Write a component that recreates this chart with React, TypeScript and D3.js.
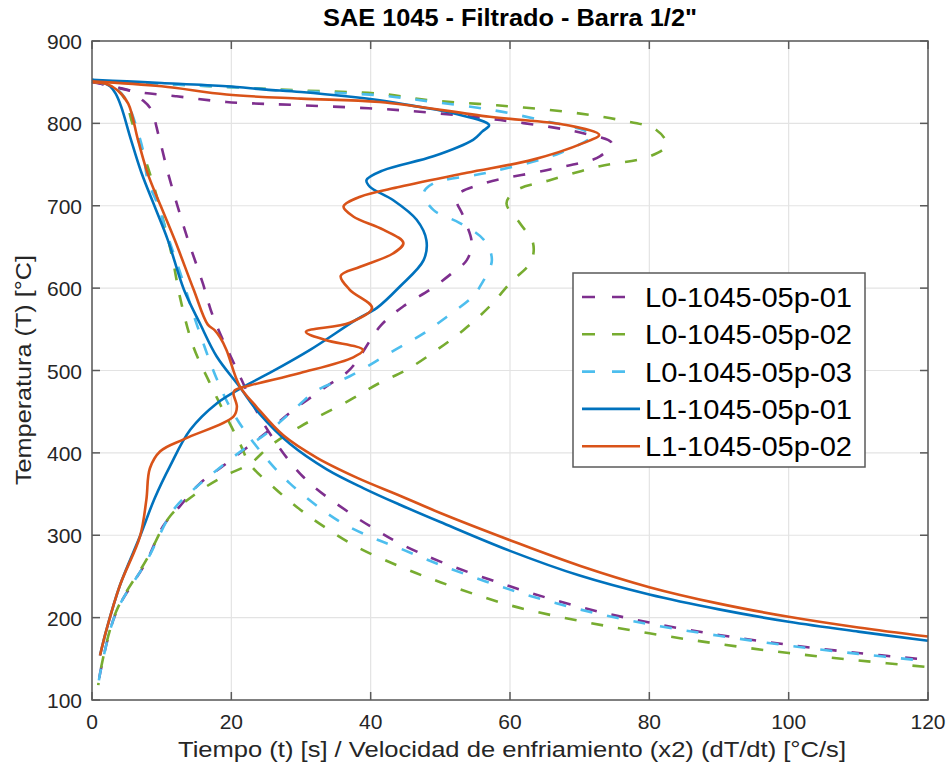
import React, { useEffect, useRef } from "react";
import * as d3 from "d3";

// [x, T] pairs: time curves (t [s]) and cooling-rate curves (2*dT/dt)
const l0_01_time: [number, number][] = [
  [0, 850], [2, 847], [4, 843], [5.7, 839], [7, 830], [8.4, 818], [9.6, 784], [10.9, 740],
  [12.3, 699], [13.8, 658], [15.9, 606], [17.4, 565], [20.8, 501], [24.6, 436], [30.3, 371],
  [37, 327], [40.9, 306], [44.2, 290], [50, 268], [60, 238], [70, 213], [80, 194], [90, 179],
  [100, 167], [110, 157], [118.5, 150],
];
const l0_01_rate: [number, number][] = [
  [0, 851], [5.9, 839], [12, 833], [19.3, 826], [30, 822], [44.2, 816], [58.6, 804], [70.5, 788],
  [74.6, 776], [72.9, 760], [65.7, 744], [56.2, 727], [52.3, 711], [53.3, 687], [54.5, 655],
  [53.8, 634], [51.5, 617], [48.5, 598], [44.7, 578], [41.5, 555], [37, 501], [33.7, 481],
  [28.9, 452], [25.5, 428], [18.8, 384], [15.5, 363], [12.6, 335], [10.2, 311], [7.8, 268],
  [3.5, 207], [1.2, 134], [0.9, 118],
];

const l0_02_time: [number, number][] = [
  [0, 851], [2, 848], [3.5, 842], [4.8, 828], [5.8, 800], [7.5, 760], [9, 720], [10.9, 660],
  [11.7, 630], [12.6, 590], [14.5, 530], [16.9, 485], [18.8, 452], [21.2, 412], [22.7, 386],
  [26.5, 355], [29.9, 331], [33.2, 311], [38, 286], [44.2, 262], [50, 243], [60, 215],
  [70, 196], [80, 181], [90, 168], [100, 157], [110, 148], [120, 140],
];
const l0_02_rate: [number, number][] = [
  [0, 852], [10, 848], [20, 844], [30, 840], [41.3, 836], [48.5, 828], [58.1, 822], [68.1, 814],
  [75.8, 804], [81, 792], [82.5, 774], [80.1, 760], [72.9, 748], [65.7, 731], [61, 719],
  [59.5, 703], [61.4, 679], [63.3, 655], [63, 632], [60, 606], [57.1, 578], [53.3, 549],
  [49.5, 525], [45.2, 501], [41.3, 485], [37, 464], [29.9, 432], [25.5, 408], [22.7, 387],
  [18.8, 371], [15, 351], [11.2, 323], [7.8, 270], [3.5, 208], [1.2, 135], [0.9, 118],
];

const l0_03_time: [number, number][] = [
  [0, 851], [2, 848], [3.5, 842], [4.8, 830], [5.6, 815], [7.3, 768], [8, 731], [9.5, 700],
  [11, 660], [13, 610], [15, 557], [17.9, 490], [20.3, 448], [23.6, 408], [28.4, 363],
  [35.1, 319], [40, 298], [44.2, 284], [50, 264], [60, 234], [70, 210], [80, 192], [90, 178],
  [100, 166], [110, 156], [119, 148],
];
const l0_03_rate: [number, number][] = [
  [0, 852], [10, 848], [20, 844], [30, 839], [41.3, 834], [49, 826], [57.6, 816], [65, 803],
  [70.5, 792], [71.9, 786], [67.2, 764], [56.7, 740], [49, 727], [47.6, 715], [49, 695],
  [52.8, 679], [56.2, 659], [57.4, 634], [55.7, 602], [54.7, 590], [50.9, 565], [47.6, 545],
  [43.5, 525], [37, 493], [32.3, 476], [28.4, 448], [25.1, 424], [21.7, 404], [17.9, 379],
  [14.5, 355], [11.7, 331], [7.8, 268], [3.5, 207], [1.2, 134], [0.9, 118],
];

const l1_01_time: [number, number][] = [
  [0, 853], [1.5, 850], [2.6, 845], [3.4, 836], [4.2, 820], [5.6, 780], [7.1, 740], [9, 699],
  [10.9, 658], [13.2, 598], [15.5, 557], [17.9, 517], [21.2, 480], [24.1, 447], [28.4, 411],
  [33.7, 380], [39, 357], [44.2, 337], [50, 316], [60, 281], [70, 251], [80, 228], [90, 210],
  [100, 195], [110, 183], [120, 172],
];
const l1_01_rate: [number, number][] = [
  [0, 853], [5, 851], [10, 849], [19.3, 845], [25, 841], [30, 838], [41.3, 828], [47, 820],
  [52, 812], [57, 798], [56, 790], [54.7, 780], [49, 760], [41.8, 743], [39.4, 731], [39.9, 723],
  [43.2, 707], [46.6, 683], [48, 658], [47.6, 634], [44.2, 602], [40.9, 576], [38, 562],
  [31.3, 525], [25.5, 497], [21.7, 480], [17.9, 460], [14.1, 428], [11.2, 384], [9, 345],
  [6.9, 299], [4, 239], [2.1, 186], [1.15, 154],
];

const l1_02_time: [number, number][] = [
  [0, 850], [2, 848], [3.7, 840], [5.2, 824], [6.6, 780], [8, 739], [9.9, 699], [11.9, 658],
  [14.6, 598], [16.6, 556], [17.6, 549], [18.4, 540], [19.3, 525], [21.2, 481], [23.6, 456],
  [27.5, 421], [32.3, 394], [38, 370], [44.2, 348], [50, 327], [60, 294], [70, 263], [80, 237],
  [90, 217], [100, 201], [110, 188], [120, 177],
];
const l1_02_rate: [number, number][] = [
  [0, 851], [10, 845], [19.3, 835], [30, 830], [41.3, 826], [57.1, 808], [68.1, 798],
  [72.8, 786], [70.5, 776], [63.3, 756], [53.8, 740], [44.2, 723], [38.5, 711], [36.1, 699],
  [37.5, 687], [41.8, 671], [44.7, 655], [43.2, 642], [38.5, 626], [35.7, 615], [37, 598],
  [40.2, 576], [37, 558], [30.7, 547], [33.5, 537], [38.9, 525], [37.5, 516], [29.9, 497],
  [22.7, 482], [20.5, 476], [20.3, 472], [20.8, 456], [20.3, 444], [13.3, 417], [9.8, 402],
  [8.3, 381], [7.8, 343], [6.9, 299], [4, 239], [2.1, 186], [1.15, 154],
];

const seriesNames = ["L0-1045-05p-01", "L0-1045-05p-02", "L0-1045-05p-03", "L1-1045-05p-01", "L1-1045-05p-02"];
const seriesColors = ["#7E2F8E", "#77AC30", "#4DBEEE", "#0072BD", "#D95319"];
const seriesDashed = [true, true, true, false, false];
const seriesCurves = [
  [l0_01_time, l0_01_rate],
  [l0_02_time, l0_02_rate],
  [l0_03_time, l0_03_rate],
  [l1_01_time, l1_01_rate],
  [l1_02_time, l1_02_rate],
];

const xTicks = [0, 20, 40, 60, 80, 100, 120];
const yTicks = [100, 200, 300, 400, 500, 600, 700, 800, 900];

const App = () => {
  const svgRef = useRef<SVGSVGElement>(null);

  useEffect(() => {
    const width = 950;
    const height = 773;
    const left = 92, right = 928, top = 41, bottom = 700;
    const font = "'Liberation Sans', Arial, Helvetica, sans-serif";

    const svg = d3.select(svgRef.current);
    svg.selectAll("*").remove();
    svg.attr("width", width).attr("height", height);

    svg.append("rect").attr("width", width).attr("height", height).attr("fill", "#fff");

    const x = d3.scaleLinear().domain([0, 120]).range([left, right]);
    const y = d3.scaleLinear().domain([100, 900]).range([bottom, top]);

    // grid
    const grid = svg.append("g").attr("stroke", "#e3e3e3").attr("stroke-width", 1.2);
    xTicks.forEach((t) => {
      grid.append("line").attr("x1", x(t)).attr("x2", x(t)).attr("y1", top).attr("y2", bottom);
    });
    yTicks.forEach((t) => {
      grid.append("line").attr("x1", left).attr("x2", right).attr("y1", y(t)).attr("y2", y(t));
    });

    // curves
    const line = d3
      .line<[number, number]>()
      .x((d) => x(d[0]))
      .y((d) => y(d[1]))
      .curve(d3.curveCatmullRom.alpha(0.5));

    const plot = svg.append("g");
    seriesCurves.forEach((curves, i) => {
      curves.forEach((pts) => {
        plot
          .append("path")
          .attr("d", line(pts))
          .attr("fill", "none")
          .attr("stroke", seriesColors[i])
          .attr("stroke-width", 2.6)
          .attr("stroke-linejoin", "round")
          .attr("stroke-dasharray", seriesDashed[i] ? "12 15" : null);
      });
    });

    // axes box + inward ticks
    const axis = svg.append("g").attr("stroke", "#5a5a5a").attr("stroke-width", 1.5);
    axis.append("rect")
      .attr("x", left).attr("y", top)
      .attr("width", right - left).attr("height", bottom - top)
      .attr("fill", "none");
    const tl = 8;
    xTicks.forEach((t) => {
      axis.append("line").attr("x1", x(t)).attr("x2", x(t)).attr("y1", bottom).attr("y2", bottom - tl);
      axis.append("line").attr("x1", x(t)).attr("x2", x(t)).attr("y1", top).attr("y2", top + tl);
    });
    yTicks.forEach((t) => {
      axis.append("line").attr("x1", left).attr("x2", left + tl).attr("y1", y(t)).attr("y2", y(t));
      axis.append("line").attr("x1", right).attr("x2", right - tl).attr("y1", y(t)).attr("y2", y(t));
    });

    // tick labels
    const labels = svg.append("g").attr("font-family", font).attr("fill", "#262626").attr("font-size", 21);
    xTicks.forEach((t) => {
      labels.append("text").attr("x", x(t)).attr("y", 729).attr("text-anchor", "middle").text(t);
    });
    yTicks.forEach((t) => {
      labels.append("text").attr("x", 82).attr("y", y(t) + 8).attr("text-anchor", "end").text(t);
    });

    // title and axis labels
    svg.append("text")
      .attr("x", 510).attr("y", 26)
      .attr("text-anchor", "middle")
      .attr("font-family", font).attr("font-weight", "bold").attr("font-size", 24)
      .attr("fill", "#000")
      .attr("textLength", 374).attr("lengthAdjust", "spacingAndGlyphs")
      .text('SAE 1045 - Filtrado - Barra 1/2"');

    svg.append("text")
      .attr("x", 512).attr("y", 757)
      .attr("text-anchor", "middle")
      .attr("font-family", font).attr("font-size", 22)
      .attr("fill", "#262626")
      .attr("textLength", 668).attr("lengthAdjust", "spacingAndGlyphs")
      .text("Tiempo (t) [s] / Velocidad de enfriamiento (x2) (dT/dt) [°C/s]");

    svg.append("text")
      .attr("transform", "translate(31,370) rotate(-90)")
      .attr("text-anchor", "middle")
      .attr("font-family", font).attr("font-size", 22)
      .attr("fill", "#262626")
      .attr("textLength", 230).attr("lengthAdjust", "spacingAndGlyphs")
      .text("Temperatura (T) [°C]");

    // legend
    const lg = svg.append("g");
    lg.append("rect")
      .attr("x", 573).attr("y", 273).attr("width", 292).attr("height", 194)
      .attr("fill", "#fff").attr("stroke", "#5a5a5a").attr("stroke-width", 1.5);
    seriesNames.forEach((name, i) => {
      const cy = 297 + i * 37.3;
      lg.append("line")
        .attr("x1", 582).attr("x2", seriesDashed[i] ? 628 : 640)
        .attr("y1", cy).attr("y2", cy)
        .attr("stroke", seriesColors[i]).attr("stroke-width", 2.6)
        .attr("stroke-dasharray", seriesDashed[i] ? "13 17" : null);
      lg.append("text")
        .attr("x", 645).attr("y", cy + 10)
        .attr("font-family", font).attr("font-size", 28)
        .attr("fill", "#000")
        .attr("textLength", 207).attr("lengthAdjust", "spacingAndGlyphs")
        .text(name);
    });
  }, []);

  return <svg ref={svgRef} style={{ position: "absolute", left: 0, top: 0 }}></svg>;
};

export default App;
